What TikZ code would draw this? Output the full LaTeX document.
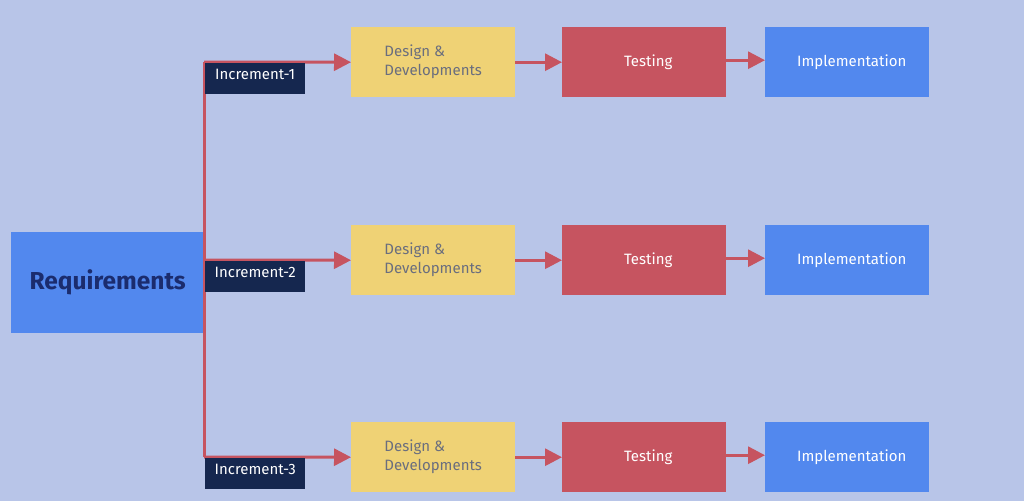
\documentclass[tikz,border=0pt]{standalone}
\usepackage{fontspec}
\setmainfont{Fira Sans}
\usetikzlibrary{arrows.meta}
\definecolor{bgc}{RGB}{184,197,232}
\definecolor{bluec}{RGB}{82,136,238}
\definecolor{reqtext}{RGB}{27,44,110}
\definecolor{navyc}{RGB}{21,39,79}
\definecolor{redc}{RGB}{198,84,96}
\definecolor{yellowc}{RGB}{239,210,117}
\definecolor{grayt}{RGB}{106,110,126}
\tikzset{
  box/.style={draw=none, minimum width=164pt, minimum height=70pt, inner sep=0pt, anchor=north west, font=\fontsize{15}{19}\selectfont},
  designbox/.style={box, fill=yellowc, text=grayt, align=left},
  testbox/.style={box, fill=redc, text=white, execute at begin node=\hspace*{8pt}},
  implbox/.style={box, fill=bluec, text=white, execute at begin node=\hspace*{9pt}},
  incbox/.style={fill=navyc, text=white, minimum width=100pt, minimum height=31pt, inner sep=0pt, text height=10pt, text depth=8pt, anchor=north west, font=\fontsize{15}{17}\selectfont},
  flow/.style={draw=redc, line width=3pt, -{Triangle[length=17pt,width=17pt]}},
  trunk/.style={draw=redc, line width=3pt},
}
\begin{document}
\begin{tikzpicture}[x=1pt,y=-1pt]
\fill[bgc] (0,0) rectangle (1024,501);
\useasboundingbox (0,0) rectangle (1024,501);
\node[fill=bluec, text=reqtext, minimum width=193pt, minimum height=101pt, inner sep=0pt, anchor=north west, font=\fontsize{24.5}{28}\selectfont\bfseries] (req) at (11,232) {Requirements};
\coordinate (top) at (204,62);
\coordinate (mid) at (204,260);
\coordinate (bot) at (204,457);
\draw[trunk] (top) -- (bot);
\foreach \r/\y/\c in {1/27/top,2/225/mid,3/422/bot}{
  \node[designbox] (d\r) at (351,\y) {Design \&\\Developments};
  \node[testbox] (t\r) at (562,\y) {Testing};
  \node[implbox] (i\r) at (765,\y) {Implementation};
  \draw[flow] (\c) -- (d\r.west);
  \draw[flow] (d\r.east) -- (t\r.west);
  \draw[flow] ([yshift=2pt]t\r.east) -- ([yshift=2pt]i\r.west);
}
\node[incbox] (inc1) at (205,63) {Increment-1};
\node[incbox] (inc2) at (205,261) {Increment-2};
\node[incbox] (inc3) at (205,458) {Increment-3};
\end{tikzpicture}
\end{document}
